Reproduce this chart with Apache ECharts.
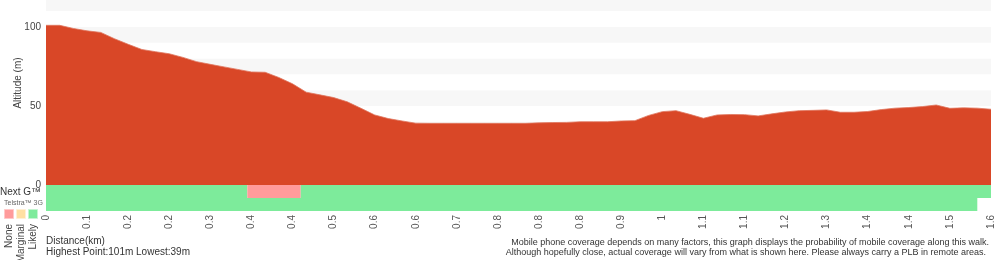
<!DOCTYPE html>
<html>
<head>
<meta charset="utf-8">
<script src="https://cdn.jsdelivr.net/npm/echarts@6/dist/echarts.min.js"></script>
<style>
html,body{margin:0;padding:0;background:#fff;}
#chart{width:1000px;height:260px;}
</style>
</head>
<body>
<div id="chart"></div>
<script>
// ---- data ----
// altitude (m) at each sample point along the walk
const altitude = [
  101, 101, 99, 97.5, 96.5, 92.5, 89, 85.7, 84.3, 83,
  80.7, 78, 76.3, 74.7, 73.1, 71.5, 71.3, 68, 64, 58.7,
  57, 55.3, 52.6, 48.5, 44.3, 42, 40.5, 39.1, 39, 39,
  39, 39, 39, 39, 39, 39, 39.3, 39.5, 39.6, 40,
  40, 40, 40.5, 40.7, 44, 46.4, 47, 44.7, 42.2, 44.3,
  44.6, 44.5, 43.7, 45, 46.2, 47, 47.2, 47.5, 46, 46,
  46.5, 47.7, 48.6, 49, 49.6, 50.6, 48.5, 48.8, 48.6, 47.9
];
// distance tick labels (km), one every third sample point
const tickLabels = ['0','0.1','0.2','0.2','0.3','0.4','0.4','0.5','0.6','0.6','0.7','0.8',
                    '0.8','0.8','0.9','1','1.1','1.1','1.2','1.3','1.4','1.4','1.5','1.6'];
const yTickLabels = [0, 50, 100];
// coverage segments: [from sample index, to sample index, level]
const nextGCoverage = [[0, 14.7, 'Likely'], [14.7, 18.6, 'None'], [18.6, 69, 'Likely']];
const telstra3GCoverage = [[0, 68, 'Likely']];
const coverageLevels = ['None', 'Marginal', 'Likely'];
const networks = ['Telstra™ 3G', 'Next G™'];

// ---- chart ----
const FONT = 'Liberation Sans, Arial, Helvetica, sans-serif';
const levelColors = {None: '#ff9b9b', Marginal: '#ffe0a3', Likely: '#7deb9b'};
const categories = altitude.map((_, i) => String(i));
const coverageData = [];
telstra3GCoverage.forEach(s => coverageData.push([s[0], s[1], 0, s[2]]));
nextGCoverage.forEach(s => coverageData.push([s[0], s[1], 1, s[2]]));

const chart = echarts.init(document.getElementById('chart'), null, {renderer: 'canvas'});
const option = {
  animation: false,
  textStyle: {fontFamily: FONT},
  grid: [
    {left: 46, right: 9, top: 0, height: 185, containLabel: false, outerBoundsMode: 'none'},
    {left: 46, right: 9, top: 185, height: 26, containLabel: false, outerBoundsMode: 'none'}
  ],
  xAxis: [
    {type: 'category', gridIndex: 0, data: categories, boundaryGap: false,
     axisLine: {show: false}, axisTick: {show: false}, axisLabel: {show: false}, splitLine: {show: false}},
    {type: 'category', gridIndex: 1, data: categories, boundaryGap: false, position: 'bottom',
     axisLine: {show: false}, axisTick: {show: false}, splitLine: {show: false},
     axisLabel: {interval: 2, rotate: 90, margin: 4, fontSize: 10, color: '#555', fontFamily: FONT,
       formatter: (v, idx) => tickLabels[Math.round(idx / 3)] }},
    {type: 'value', gridIndex: 1, min: 0, max: altitude.length - 1, show: false, position: 'top'}
  ],
  yAxis: [
    {type: 'value', gridIndex: 0, min: 0, max: 117, interval: 10,
     axisLine: {show: false}, axisTick: {show: false}, splitLine: {show: false},
     splitArea: {show: true, areaStyle: {color: ['#ffffff', '#f7f7f7']}},
     axisLabel: {fontSize: 10, color: '#444', margin: 5, fontFamily: FONT, showMaxLabel: false,
       formatter: v => yTickLabels.indexOf(v) >= 0 ? String(v) : ''}},
    {type: 'value', gridIndex: 1, min: 0, max: 2, show: false}
  ],
  series: [
    {type: 'line', xAxisIndex: 0, yAxisIndex: 0, data: altitude, showSymbol: false, smooth: false,
     lineStyle: {width: 0.8, color: '#e0765e'}, areaStyle: {color: '#d94727', opacity: 1}},
    {type: 'custom', xAxisIndex: 2, yAxisIndex: 1, data: coverageData,
     renderItem: function (params, api) {
       const p1 = api.coord([api.value(0), api.value(2) + 1]);
       const p2 = api.coord([api.value(1), api.value(2)]);
       const lvl = coverageData[params.dataIndex][3];
       return {type: 'rect', shape: {x: p1[0], y: p1[1], width: p2[0] - p1[0], height: p2[1] - p1[1]},
               style: {fill: levelColors[lvl]}};
     }}
  ],
  graphic: [
    {type: 'text', x: 18, y: 83, rotation: Math.PI / 2, style: {text: 'Altitude (m)', font: '10px ' + FONT, fill: '#444', textAlign: 'center', textVerticalAlign: 'middle'}},
    {type: 'text', x: 0, y: 192, style: {text: networks[1], font: '10px ' + FONT, fill: '#333', textVerticalAlign: 'middle'}},
    {type: 'text', x: 4, y: 203, style: {text: networks[0], font: '7px ' + FONT, fill: '#666', textVerticalAlign: 'middle'}},
    {type: 'rect', shape: {x: 4.5, y: 209.5, width: 9, height: 9}, style: {fill: levelColors.None, stroke: '#ffc8c8', lineWidth: 1}},
    {type: 'rect', shape: {x: 16.5, y: 209.5, width: 9, height: 9}, style: {fill: levelColors.Marginal, stroke: '#fff0d4', lineWidth: 1}},
    {type: 'rect', shape: {x: 28.5, y: 209.5, width: 9, height: 9}, style: {fill: levelColors.Likely, stroke: '#c3f5d0', lineWidth: 1}},
    {type: 'text', x: 9, y: 224, rotation: Math.PI / 2, style: {text: coverageLevels[0], font: '10px ' + FONT, fill: '#444', textAlign: 'right', textVerticalAlign: 'middle'}},
    {type: 'text', x: 21, y: 224, rotation: Math.PI / 2, style: {text: coverageLevels[1], font: '10px ' + FONT, fill: '#444', textAlign: 'right', textVerticalAlign: 'middle'}},
    {type: 'text', x: 33, y: 224, rotation: Math.PI / 2, style: {text: coverageLevels[2], font: '10px ' + FONT, fill: '#444', textAlign: 'right', textVerticalAlign: 'middle'}},
    {type: 'text', x: 46, y: 241, style: {text: 'Distance(km)', font: '10px ' + FONT, fill: '#333', textVerticalAlign: 'middle'}},
    {type: 'text', x: 46, y: 252, style: {text: 'Highest Point:101m Lowest:39m', font: '10px ' + FONT, fill: '#333', textVerticalAlign: 'middle'}},
    {type: 'text', x: 989, y: 243, style: {text: 'Mobile phone coverage depends on many factors, this graph displays the probability of mobile coverage along this walk.', font: '9px ' + FONT, fill: '#333', textAlign: 'right', textVerticalAlign: 'middle'}},
    {type: 'text', x: 986, y: 253, style: {text: 'Although hopefully close, actual coverage will vary from what is shown here. Please always carry a PLB in remote areas.', font: '9px ' + FONT, fill: '#333', textAlign: 'right', textVerticalAlign: 'middle'}}
  ]
};
chart.setOption(option);
</script>
</body>
</html>
